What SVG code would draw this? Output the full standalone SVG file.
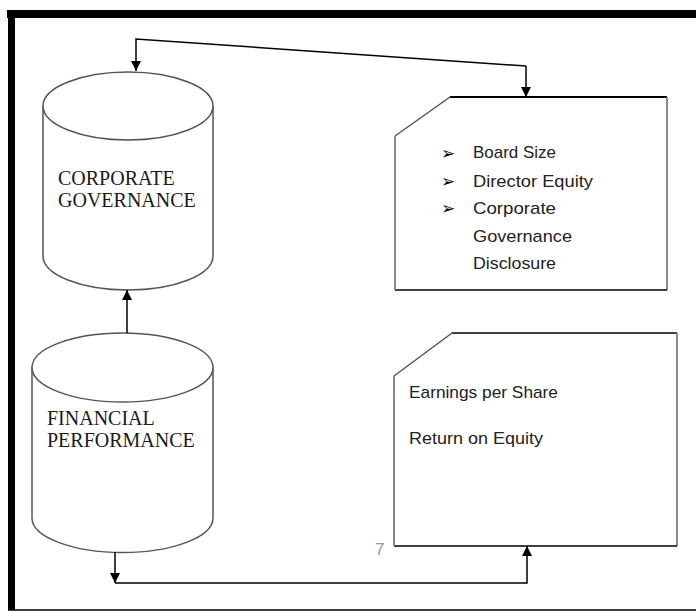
<svg xmlns="http://www.w3.org/2000/svg" width="696" height="611" viewBox="0 0 696 611">
<defs>
<style>
.cyl{fill:#fff;stroke:#555;stroke-width:1.5}
.cylt{font-family:"Liberation Serif","Times New Roman",serif;font-size:20px;fill:#1a1a1a}
.box{font-family:"Liberation Sans",Arial,sans-serif;font-size:17px;fill:#222}
.bul{font-family:"DejaVu Sans",sans-serif;font-size:17px;fill:#000}
.con{fill:none;stroke:#000;stroke-width:1.5}
</style>
<marker id="ah" markerUnits="userSpaceOnUse" markerWidth="10" markerHeight="10" refX="10" refY="5" orient="auto">
<path d="M0,0 L10,5 L0,10 z" fill="#000"/>
</marker>
</defs>
<rect width="696" height="611" fill="#fff"/>
<g id="frame">
<rect x="7" y="10" width="689" height="8" fill="#000"/>
<rect x="8" y="10" width="7" height="600" fill="#000"/>
<line x1="8" y1="610" x2="696" y2="610" stroke="#000" stroke-width="1.5"/>
</g>
<g id="corporate-governance">
<path class="cyl" d="M43,106 L43,256 A85,34 0 0 0 213,256 L213,106"/>
<ellipse class="cyl" cx="128" cy="106" rx="85" ry="34"/>
<text class="cylt" x="58" y="185">CORPORATE</text>
<text class="cylt" x="58" y="207">GOVERNANCE</text>
</g>
<g id="financial-performance">
<path class="cyl" d="M32,367.5 L32,518 A90.5,34.5 0 0 0 213,518 L213,367.5"/>
<ellipse class="cyl" cx="122.5" cy="367.5" rx="90.5" ry="34.5"/>
<text class="cylt" x="47" y="425">FINANCIAL</text>
<text class="cylt" x="47" y="447">PERFORMANCE</text>
</g>
<g id="governance-box">
<path d="M395,136 L450,97 L667,97 L667,290 L395,290 Z" fill="#fff"/>
<line x1="450" y1="97" x2="667" y2="97" stroke="#000" stroke-width="2"/>
<line x1="667" y1="97" x2="667" y2="290" stroke="#888" stroke-width="2"/>
<line x1="395" y1="290" x2="667" y2="290" stroke="#000" stroke-width="1.5"/>
<line x1="395" y1="136" x2="395" y2="290" stroke="#888" stroke-width="2"/>
<line x1="395" y1="136" x2="450" y2="97" stroke="#555" stroke-width="1.5"/>
<text class="bul" x="441" y="159">➢</text>
<text class="bul" x="441" y="187">➢</text>
<text class="bul" x="441" y="214">➢</text>
<text class="box" x="473" y="158" textLength="83" lengthAdjust="spacingAndGlyphs">Board Size</text>
<text class="box" x="473" y="187" textLength="120" lengthAdjust="spacingAndGlyphs">Director Equity</text>
<text class="box" x="473" y="214" textLength="83" lengthAdjust="spacingAndGlyphs">Corporate</text>
<text class="box" x="473" y="242" textLength="99" lengthAdjust="spacingAndGlyphs">Governance</text>
<text class="box" x="473" y="269" textLength="83" lengthAdjust="spacingAndGlyphs">Disclosure</text>
</g>
<g id="performance-box">
<path d="M394,376 L452,333 L677,333 L677,546 L394,546 Z" fill="#fff"/>
<line x1="452" y1="333" x2="677" y2="333" stroke="#000" stroke-width="1.5"/>
<line x1="677" y1="333" x2="677" y2="546" stroke="#888" stroke-width="2"/>
<line x1="394" y1="546" x2="677" y2="546" stroke="#000" stroke-width="1.5"/>
<line x1="394" y1="376" x2="394" y2="546" stroke="#888" stroke-width="2"/>
<line x1="394" y1="376" x2="452" y2="333" stroke="#555" stroke-width="1.5"/>
<text class="box" x="409" y="398" textLength="149" lengthAdjust="spacingAndGlyphs">Earnings per Share</text>
<text class="box" x="409" y="444" textLength="134" lengthAdjust="spacingAndGlyphs">Return on Equity</text>
</g>
<g id="page-number">
<text x="375" y="555" font-family="Liberation Sans,Arial,sans-serif" font-size="17" fill="#8c9aab">7</text>
</g>
<g id="connectors">
<path class="con" d="M526,66 L136,39 L136,71" marker-end="url(#ah)"/>
<path class="con" d="M526,66 L526,97" marker-end="url(#ah)"/>
<path class="con" d="M127,333 L127,290" marker-end="url(#ah)"/>
<path class="con" d="M115,552 L115,583" marker-end="url(#ah)"/>
<path class="con" d="M115,583 L527,583 L527,546" marker-end="url(#ah)"/>
</g>
</svg>
